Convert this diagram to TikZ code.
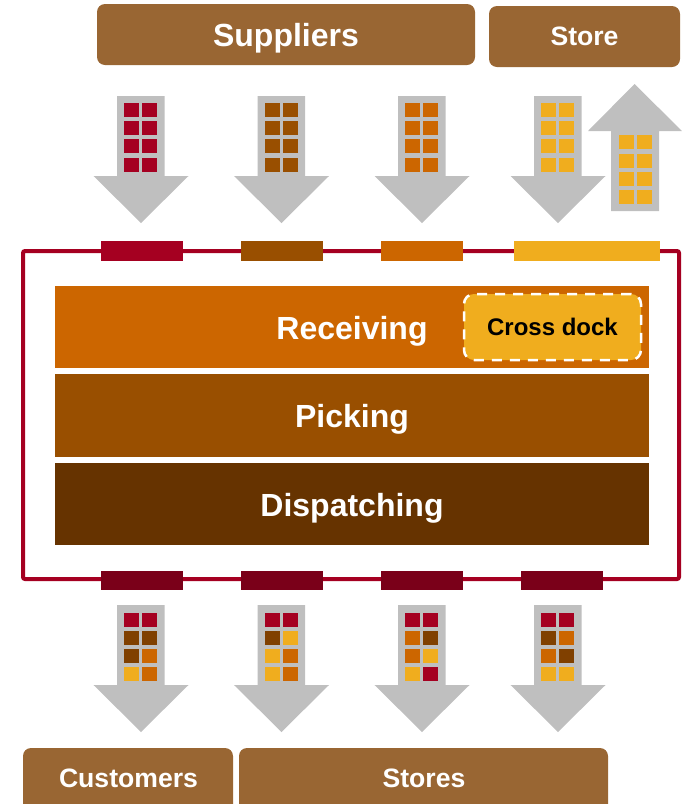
\documentclass[tikz,border=0pt]{standalone}
\usepackage{tikz}
\usepackage{xcolor}
\usepackage{fontspec}
\setmainfont{Liberation Sans}

\definecolor{crimson}{HTML}{A50021}
\definecolor{wine}{HTML}{7A0019}
\definecolor{tan}{HTML}{996633}
\definecolor{amber}{HTML}{F0AD1E}
\definecolor{orange}{HTML}{CC6600}
\definecolor{rust}{HTML}{994F00}
\definecolor{umber}{HTML}{804000}
\definecolor{bark}{HTML}{663300}
\definecolor{arrowgray}{HTML}{BFBFBF}

\tikzset{
	partner/.style={fill=tan,rounded corners=8pt,inner sep=0pt},
	partnertext/.style={text=white,font=\bfseries\fontsize{26.6}{30}\selectfont},
	zone/.style={inner sep=0pt,minimum width=594pt},
	zonetext/.style={text=white,font=\bfseries\fontsize{32}{36}\selectfont},
	door/.style={inner sep=0pt,minimum height=20pt}
}

% one row of a pack: y, left colour, right colour
\newcommand{\packrow}[4][124]{
	\fill[#3] (#1,#2) rectangle (#1+15,#2+14);
	\fill[#4] (#1+18,#2) rectangle (#1+33,#2+14);
}

\begin{document}
\begin{tikzpicture}[x=1pt,y=-1pt]
	\useasboundingbox (0,0) rectangle (682,804);

	% partners
	\node[partner,minimum width=378pt,minimum height=61pt] (suppliers) at (286,34.5) {};
	\node[partnertext,font=\bfseries\fontsize{32}{36}\selectfont] (supplierstext) at (286,38.5) {Suppliers};
	\node[partner,minimum width=191pt,minimum height=61pt] (store) at (584.5,36.5) {};
	\node[partnertext] (storetext) at (584.5,36) {Store};
	\node[partner,minimum width=210pt,minimum height=66pt] (customers) at (128,781) {};
	\node[partnertext] (customerstext) at (128.5,778) {Customers};
	\node[partner,minimum width=369pt,minimum height=66pt] (stores) at (423.5,781) {};
	\node[partnertext] (storestext) at (424,778) {Stores};

	% incoming
	\foreach \dx/\col in {0/crimson,140.5/rust,281/orange,417/amber} {
		\fill[arrowgray] (\dx+117,96) -- (\dx+164.5,96) -- (\dx+164.5,176) -- (\dx+188.5,176) -- (\dx+141,223) -- (\dx+93.5,176) -- (\dx+117,176) -- cycle;
		\foreach \y in {103,121,139,158} {
			\packrow[\dx+124]{\y}{\col}{\col}
		}
	}

	% back to the store
	\fill[arrowgray] (634.5,84) -- (682,131) -- (659,131) -- (659,211) -- (611,211) -- (611,131) -- (588,131) -- cycle;
	\foreach \y in {135,154,172,190} {
		\packrow[619]{\y}{amber}{amber}
	}

	% outgoing
	\foreach \dx/\y/\colA/\colB in {
		0/613/crimson/crimson,0/631/umber/umber,0/649/umber/orange,0/667/amber/orange,
		140.5/613/crimson/crimson,140.5/631/umber/amber,140.5/649/amber/orange,140.5/667/amber/orange,
		281/613/crimson/crimson,281/631/orange/umber,281/649/orange/amber,281/667/amber/crimson,
		417/613/crimson/crimson,417/631/umber/orange,417/649/orange/umber,417/667/amber/amber} {
		\ifnum\y=613
			\fill[arrowgray] (\dx+117,605) -- (\dx+164.5,605) -- (\dx+164.5,685) -- (\dx+188.5,685) -- (\dx+141,732) -- (\dx+93.5,685) -- (\dx+117,685) -- cycle;
		\fi
		\packrow[\dx+124]{\y}{\colA}{\colB}
	}

	% warehouse
	\draw[crimson,line width=4pt,rounded corners=2pt] (23,251) rectangle (679,579);
	\foreach \x/\w/\col in {142/82/crimson,282/82/rust,422/82/orange,587/146/amber} {
		\node[door,fill=\col,minimum width=\w pt] (in\x) at (\x,251) {};
	}
	\foreach \x in {142,282,422,562} {
		\node[door,fill=wine,minimum width=82pt,minimum height=19pt] (out\x) at (\x,580.5) {};
	}

	\node[zone,fill=orange,minimum height=82pt] (receivingbar) at (352,327) {};
	\node[zonetext] (receiving) at (352,331.5) {Receiving};
	\node[zone,fill=rust,minimum height=83pt] (pickingbar) at (352,415.5) {};
	\node[zonetext] (picking) at (352,419.5) {Picking};
	\node[zone,fill=bark,minimum height=82pt] (dispatchingbar) at (352,504) {};
	\node[zonetext] (dispatching) at (352,508.5) {Dispatching};

	\node[draw=white,fill=amber,line width=2.5pt,dash pattern=on 10pt off 8pt,rounded corners=10pt,minimum width=177pt,minimum height=66pt,inner sep=0pt,font=\bfseries\fontsize{24}{28}\selectfont] (crossdock) at (552.5,327) {Cross dock};
\end{tikzpicture}
\end{document}
